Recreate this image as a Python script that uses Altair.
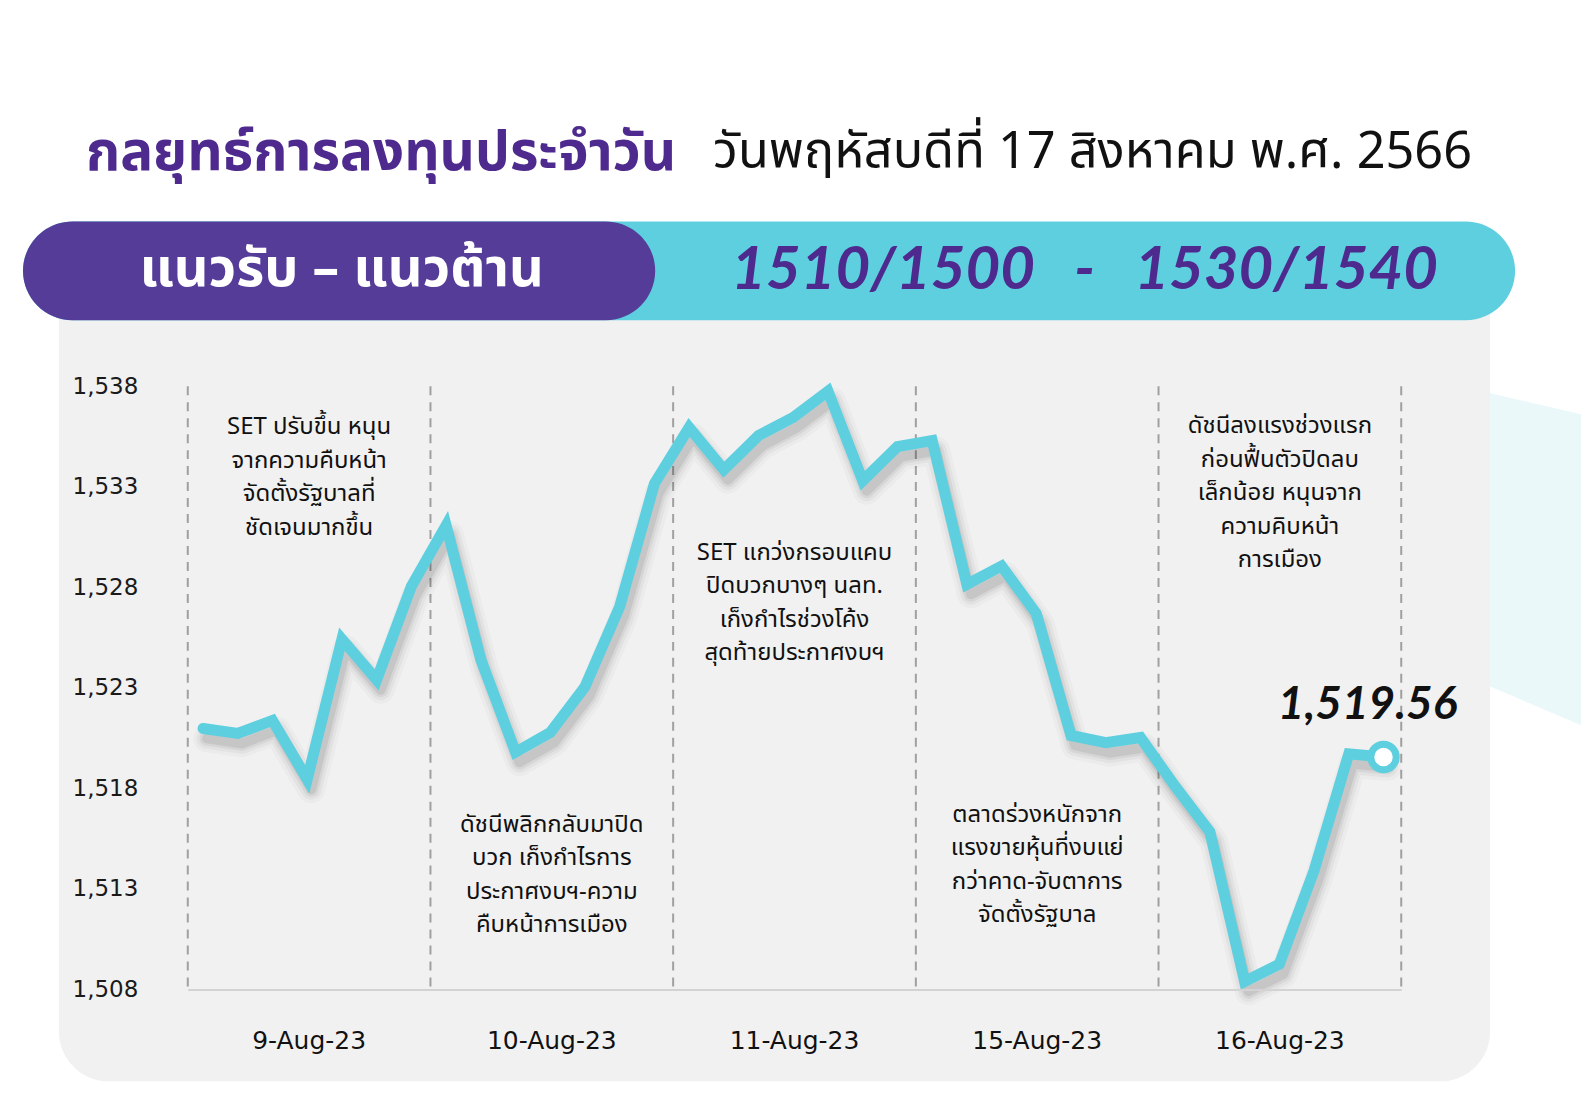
import altair as alt
import pandas as pd

# ---------------- data ----------------
set_index = [1520.98, 1520.73, 1521.38, 1518.45, 1525.42, 1523.40, 1528.05, 1531.08,
             1524.41, 1519.80, 1520.78, 1523.05, 1527.04, 1533.15, 1535.95,
             1533.85, 1535.55, 1536.45, 1537.75, 1533.30, 1535.00, 1535.30,
             1528.15, 1529.06, 1526.69, 1520.63, 1520.27, 1520.53,
             1518.10, 1515.83, 1508.40, 1509.26, 1513.91, 1519.72, 1519.56]
points_per_day = [8, 7, 7, 6, 7]
days = ["9-Aug-23", "10-Aug-23", "11-Aug-23", "15-Aug-23", "16-Aug-23"]
day_bounds = [-0.44, 6.55, 13.54, 20.53, 27.52, 34.51]
y_ticks = [1508, 1513, 1518, 1523, 1528, 1533, 1538]
notes = [
    "SET ปรับขึ้น หนุน\nจากความคืบหน้า\nจัดตั้งรัฐบาลที่\nชัดเจนมากขึ้น",
    "ดัชนีพลิกกลับมาปิด\nบวก เก็งกำไรการ\nประกาศงบฯ-ความ\nคืบหน้าการเมือง",
    "SET แกว่งกรอบแคบ\nปิดบวกบางๆ นลท.\nเก็งกำไรช่วงโค้ง\nสุดท้ายประกาศงบฯ",
    "ตลาดร่วงหนักจาก\nแรงขายหุ้นที่งบแย่\nกว่าคาด-จับตาการ\nจัดตั้งรัฐบาล",
    "ดัชนีลงแรงช่วงแรก\nก่อนฟื้นตัวปิดลบ\nเล็กน้อย หนุนจาก\nความคิบหน้า\nการเมือง",
]
title_main = "กลยุทธ์การลงทุนประจำวัน"
title_date = "วันพฤหัสบดีที่ 17 สิงหาคม พ.ศ. 2566"
banner_left = "แนวรับ – แนวต้าน"
banner_right = "1510/1500\u00a0\u00a0\u00a0-\u00a0\u00a0\u00a01530/1540"

# ---------------- layout / style ----------------
W, H = 1215, 604
PURPLE = "#553C99"
TITLE_PURPLE = "#4E2A8E"
CYAN = "#5DCFDF"
PANEL = "#F1F1F1"
THAI = "Noto Sans Thai, Noto Sans Thai Looped, Loma, Garuda, Tlwg Typo, Noto Sans, sans-serif"
NOTE_Y = [41, 439, 167, 429, 40]   # pixel centre of the first line of each note

def px_to_x(px):
    return day_bounds[0] + px * (day_bounds[-1] - day_bounds[0]) / W

def px_to_v(py):
    return y_ticks[-1] - py * (y_ticks[-1] - y_ticks[0]) / H

df = pd.DataFrame({"i": list(range(len(set_index))), "v": set_index})
bounds_df = pd.DataFrame({"b": day_bounds})
days_df = pd.DataFrame({
    "day": days,
    "c": [(day_bounds[k] + day_bounds[k + 1]) / 2 for k in range(len(days))],
})
one = pd.DataFrame({"a": [0]})

xs = alt.Scale(domain=[day_bounds[0], day_bounds[-1]], nice=False, zero=False)
ys = alt.Scale(domain=[y_ticks[0], y_ticks[-1]], nice=False, zero=False)

X = alt.X("i:Q", scale=xs,
          axis=alt.Axis(labels=False, ticks=False, grid=False, title=None, zindex=1,
                        domainColor="#D3D3D3", domainWidth=2))
Y = alt.Y("v:Q", scale=ys,
          axis=alt.Axis(values=y_ticks, format=",d", ticks=False, grid=False, domain=False,
                        title=None, labelFontSize=23, labelFont="DejaVu Sans", zindex=1,
                        labelColor="#1A1A1A", labelPadding=50))

def deco_rect(x, x2, y, y2, color, r):
    return alt.Chart(one).mark_rect(color=color, cornerRadius=r).encode(
        x=alt.value(x), x2=alt.value(x2), y=alt.value(y), y2=alt.value(y2))

def deco_text(txt, x, y, **kw):
    return alt.Chart(one).mark_text(**kw).encode(
        x=alt.value(x), y=alt.value(y), text=alt.value(txt))

# faint decorative shape on the right edge
side_df = pd.DataFrame({"x": [px_to_x(1300), px_to_x(1420)],
                        "y": [px_to_v(6), px_to_v(34)],
                        "y2": [px_to_v(299), px_to_v(350)]})
side = alt.Chart(side_df).mark_area(color="#EAF8FA").encode(
    x=alt.X("x:Q", scale=xs), y=alt.Y("y:Q", scale=ys), y2="y2:Q")

panel = deco_rect(-129, 1304, -116, 696, PANEL, 50)
banner_c = deco_rect(-165, 1329, -165, -66, CYAN, 50)
banner_p = deco_rect(-165, 468, -165, -66, PURPLE, 50)

t_main = deco_text(title_main, -102, -233, align="left", baseline="middle",
                   font=THAI, fontSize=55, fontWeight="bold", color=TITLE_PURPLE)
t_date = deco_text(title_date, 526, -233, align="left", baseline="middle",
                   font=THAI, fontSize=50.5, color="#111111")
b_left = deco_text(banner_left, 154, -116, align="center", baseline="middle",
                   font=THAI, fontSize=54, fontWeight="bold", color="white")
b_right = deco_text(banner_right, 898, -115, align="center", baseline="middle",
                    font="Lato", fontSize=60, fontWeight="bold", fontStyle="italic",
                    color=TITLE_PURPLE)

rules = alt.Chart(bounds_df).mark_rule(color="#A0A0A0", strokeWidth=2,
                                       strokeDash=[9, 7]).encode(
    x=alt.X("b:Q", scale=xs))

base = alt.Chart(df).encode(x=X, y=Y)
shadows = [
    base.mark_line(color="black", opacity=op, strokeWidth=sw, xOffset=4, yOffset=10,
                   strokeJoin="round", strokeCap="round")
    for sw, op in [(28, 0.025), (21, 0.035), (15, 0.05), (10, 0.07)]
]
line = base.mark_line(color=CYAN, strokeWidth=11, strokeJoin="miter", strokeCap="round")

last = df.tail(1).copy()
last["lbl"] = last["v"].map(lambda v: f"{v:,.2f}")
end_pt = alt.Chart(last).mark_point(shape="circle", filled=True, fill="white",
                                    stroke=CYAN, strokeWidth=7, size=650, opacity=1).encode(
    x=alt.X("i:Q", scale=xs), y=alt.Y("v:Q", scale=ys))
end_lbl = alt.Chart(last).mark_text(font="Lato", fontSize=46, fontWeight="bold",
                                    fontStyle="italic", color="#111111",
                                    dx=-16, dy=-52).encode(
    x=alt.X("i:Q", scale=xs), y=alt.Y("v:Q", scale=ys), text="lbl:N")

day_lbls = alt.Chart(days_df).mark_text(font="DejaVu Sans", fontSize=25, color="#111111",
                                        baseline="middle").encode(
    x=alt.X("c:Q", scale=xs), y=alt.value(656), text="day:N")

note_layers = []
for k, txt in enumerate(notes):
    ndf = pd.DataFrame({"c": [days_df["c"][k]], "t": [txt]})
    note_layers.append(
        alt.Chart(ndf).mark_text(font=THAI, fontSize=24, color="#111111", lineBreak="\n",
                                 lineHeight=33.5, align="center", baseline="middle").encode(
            x=alt.X("c:Q", scale=xs), y=alt.value(NOTE_Y[k]), text="t:N"))

chart = alt.layer(
    side, panel, banner_c, banner_p, t_main, t_date, b_left, b_right,
    rules, *shadows, line, end_pt, end_lbl, day_lbls, *note_layers
).properties(
    width=W, height=H,
    padding={"left": 180, "top": 378, "right": 180, "bottom": 100},
    autosize=alt.AutoSizeParams(type="none"),
    background="white",
).configure_view(stroke=None)

chart.save("out.html", embed_options={"renderer": "svg", "actions": False})
